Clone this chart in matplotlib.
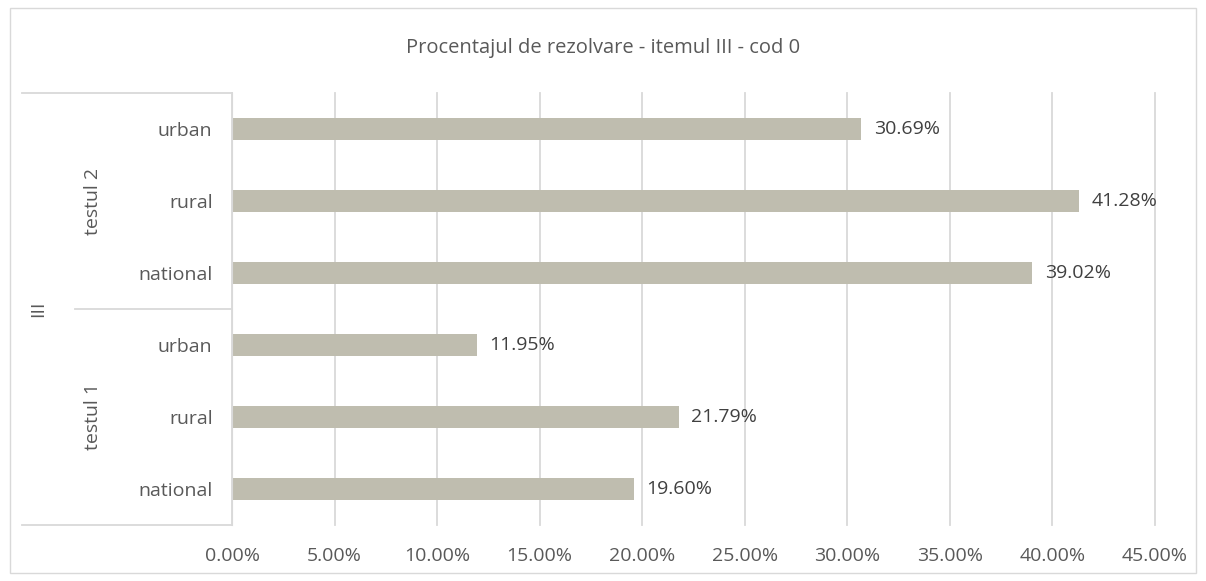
import matplotlib
matplotlib.use("Agg")
import matplotlib.pyplot as plt
from matplotlib.patches import Rectangle
from matplotlib.ticker import FuncFormatter, MultipleLocator
import numpy as np

plt.rcParams['font.family'] = ['Open Sans', 'DejaVu Sans']

# data (bottom to top)
areas = ["national", "rural", "urban", "national", "rural", "urban"]
tests = ["testul 1", "testul 2"]
item = "III"
values = [19.60, 21.79, 11.95, 39.02, 41.28, 30.69]
title = "Procentajul de rezolvare - itemul III - cod 0"

W, H = 1206, 581
fig = plt.figure(figsize=(W / 100, H / 100), dpi=100)
fig.patches.append(Rectangle((10 / W, 8 / H), 1186 / W, 565 / H, transform=fig.transFigure,
                             fill=False, edgecolor="#D9D9D9", lw=1))

x0, x1, ytop, ybot = 232, 1155, 93, 525
ax = fig.add_axes([x0 / W, 1 - ybot / H, (x1 - x0) / W, (ybot - ytop) / H])

txt = "#595959"
grid = "#D9D9D9"
fs = 14
y = np.arange(len(values))
ax.barh(y, values, height=0.31, color="#BFBDAF", zorder=2)
for yi, v in zip(y, values):
    ax.annotate(f"{v:.2f}%", (v, yi), xytext=(9, 0), textcoords="offset points",
                va="center", ha="left", fontsize=fs, color="#404040")

ax.set_xlim(0, 45)
ax.set_ylim(-0.5, len(values) - 0.5)
ax.xaxis.set_major_locator(MultipleLocator(5))
ax.xaxis.set_major_formatter(FuncFormatter(lambda v, p: f"{v:.2f}%"))
ax.grid(axis="x", color=grid, lw=1.3, zorder=0)
for gl in ax.get_xgridlines():
    gl.set_clip_on(False)
ax.set_yticks(y)
ax.set_yticklabels(areas)
ax.tick_params(axis="both", length=0, labelsize=fs, labelcolor=txt)
ax.tick_params(axis="y", pad=14)
ax.tick_params(axis="x", pad=16)
for s in ["top", "right", "bottom"]:
    ax.spines[s].set_visible(False)
ax.spines["left"].set_color(grid)

# outer category levels (rotated, Excel style)
tf = ax.get_yaxis_transform()
for i, t in enumerate(tests):
    ax.text(-0.1506, i * 3 + 1, t, transform=tf, rotation=90, ha="center", va="center",
            fontsize=fs, color=txt)
ax.text(-0.210, 2.5, item, transform=tf, rotation=90, ha="center", va="center",
        fontsize=fs, color=txt)
ax.plot([-0.2275, 0], [-0.5, -0.5], transform=tf, color=grid, lw=1.3, clip_on=False)
ax.plot([-0.2275, 0], [5.5, 5.5], transform=tf, color=grid, lw=1.3, clip_on=False)
ax.plot([-0.170, 0], [2.5, 2.5], transform=tf, color=grid, lw=1.3, clip_on=False)

fig.text(0.5, 1 - 48 / H, title, ha="center", va="center", fontsize=14.5, color=txt)

fig.savefig("out.png", dpi=100)
